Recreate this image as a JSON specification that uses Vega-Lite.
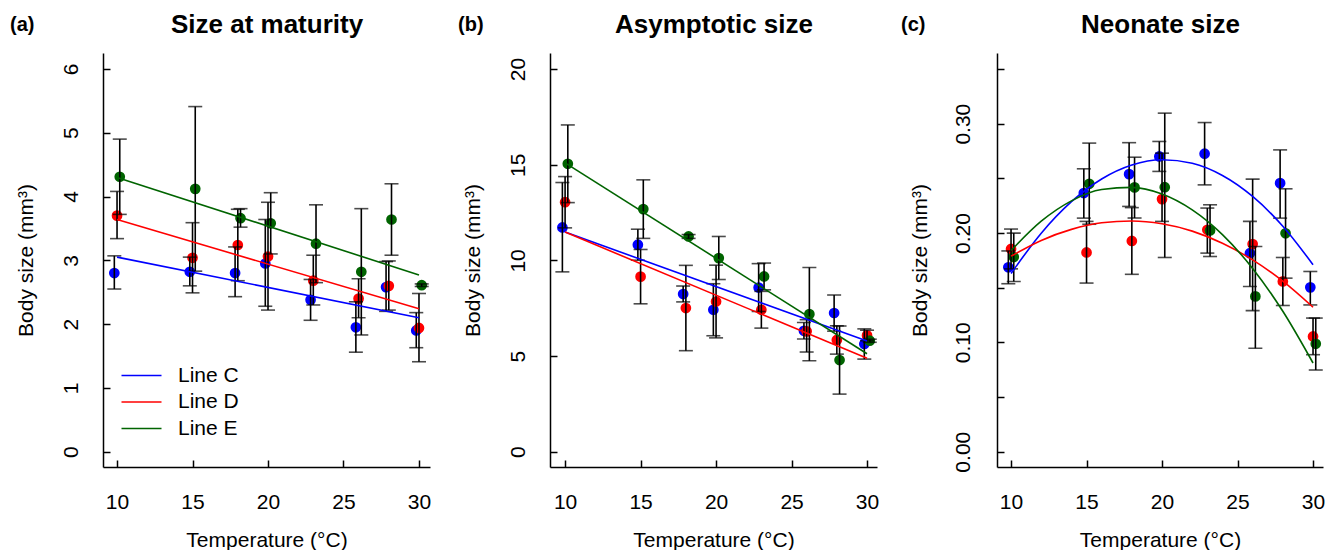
{
  "$schema": "https://vega.github.io/schema/vega-lite/v6.json",
  "background": "white",
  "padding": {"left": 10, "top": 11, "right": 5, "bottom": 0},
  "config": {
    "font": "Liberation Sans",
    "view": {"stroke": null},
    "axis": {
      "grid": false,
      "domainColor": "black", "domainWidth": 1.5,
      "tickColor": "black", "tickWidth": 1.5,
      "labelColor": "black", "labelFontSize": 21, "labelFont": "Liberation Sans",
      "titleColor": "black", "titleFontSize": 21, "titleFontWeight": "normal", "titleFont": "Liberation Sans"
    },
    "title": {"font": "Liberation Sans", "color": "black"}
  },
  "datasets": {
    "pa": [
      {"line": "Line C", "x": 9.82, "v": 2.80, "lo": 2.55, "hi": 3.07},
      {"line": "Line C", "x": 14.82, "v": 2.82, "lo": 2.60, "hi": 3.05},
      {"line": "Line C", "x": 17.82, "v": 2.80, "lo": 2.43, "hi": 3.21},
      {"line": "Line C", "x": 19.82, "v": 2.95, "lo": 2.28, "hi": 3.64},
      {"line": "Line C", "x": 22.82, "v": 2.38, "lo": 2.06, "hi": 2.70},
      {"line": "Line C", "x": 25.82, "v": 1.95, "lo": 1.56, "hi": 2.35},
      {"line": "Line C", "x": 27.82, "v": 2.58, "lo": 2.20, "hi": 2.98},
      {"line": "Line C", "x": 29.82, "v": 1.90, "lo": 1.63, "hi": 2.18},
      {"line": "Line D", "x": 10.0, "v": 3.70, "lo": 3.34, "hi": 4.08},
      {"line": "Line D", "x": 15.0, "v": 3.04, "lo": 2.49, "hi": 3.59},
      {"line": "Line D", "x": 18.0, "v": 3.24, "lo": 2.68, "hi": 3.80},
      {"line": "Line D", "x": 20.0, "v": 3.06, "lo": 2.22, "hi": 3.91},
      {"line": "Line D", "x": 23.0, "v": 2.68, "lo": 2.30, "hi": 3.08},
      {"line": "Line D", "x": 26.0, "v": 2.40, "lo": 2.10, "hi": 2.71},
      {"line": "Line D", "x": 28.0, "v": 2.60, "lo": 2.22, "hi": 2.99},
      {"line": "Line D", "x": 30.0, "v": 1.94, "lo": 1.41, "hi": 2.48},
      {"line": "Line E", "x": 10.18, "v": 4.31, "lo": 3.72, "hi": 4.90},
      {"line": "Line E", "x": 15.18, "v": 4.12, "lo": 2.83, "hi": 5.41},
      {"line": "Line E", "x": 18.18, "v": 3.66, "lo": 3.52, "hi": 3.81},
      {"line": "Line E", "x": 20.18, "v": 3.58, "lo": 3.10, "hi": 4.06},
      {"line": "Line E", "x": 23.18, "v": 3.26, "lo": 2.65, "hi": 3.87},
      {"line": "Line E", "x": 26.18, "v": 2.82, "lo": 1.83, "hi": 3.81},
      {"line": "Line E", "x": 28.18, "v": 3.64, "lo": 3.08, "hi": 4.20},
      {"line": "Line E", "x": 30.18, "v": 2.61, "lo": 2.59, "hi": 2.63}
    ],
    "pb": [
      {"line": "Line C", "x": 9.82, "v": 11.72, "lo": 9.40, "hi": 14.07},
      {"line": "Line C", "x": 14.82, "v": 10.82, "lo": 10.01, "hi": 11.63},
      {"line": "Line C", "x": 17.82, "v": 8.24, "lo": 7.83, "hi": 8.66},
      {"line": "Line C", "x": 19.82, "v": 7.42, "lo": 6.06, "hi": 8.78},
      {"line": "Line C", "x": 22.82, "v": 8.58, "lo": 7.33, "hi": 9.83},
      {"line": "Line C", "x": 25.82, "v": 6.32, "lo": 5.89, "hi": 6.75},
      {"line": "Line C", "x": 27.82, "v": 7.25, "lo": 6.30, "hi": 8.19},
      {"line": "Line C", "x": 29.82, "v": 5.63, "lo": 4.84, "hi": 6.42},
      {"line": "Line D", "x": 10.0, "v": 13.04, "lo": 11.70, "hi": 14.38},
      {"line": "Line D", "x": 15.0, "v": 9.15, "lo": 7.73, "hi": 10.57},
      {"line": "Line D", "x": 18.0, "v": 7.51, "lo": 5.28, "hi": 9.74},
      {"line": "Line D", "x": 20.0, "v": 7.85, "lo": 5.95, "hi": 9.75},
      {"line": "Line D", "x": 23.0, "v": 7.42, "lo": 6.46, "hi": 8.38},
      {"line": "Line D", "x": 26.0, "v": 6.29, "lo": 5.21, "hi": 6.90},
      {"line": "Line D", "x": 28.0, "v": 5.84, "lo": 5.10, "hi": 6.58},
      {"line": "Line D", "x": 30.0, "v": 6.08, "lo": 5.80, "hi": 6.35},
      {"line": "Line E", "x": 10.18, "v": 15.05, "lo": 13.02, "hi": 17.08},
      {"line": "Line E", "x": 15.18, "v": 12.68, "lo": 11.15, "hi": 14.21},
      {"line": "Line E", "x": 18.18, "v": 11.25, "lo": 11.15, "hi": 11.35},
      {"line": "Line E", "x": 20.18, "v": 10.12, "lo": 9.00, "hi": 11.25},
      {"line": "Line E", "x": 23.18, "v": 9.16, "lo": 8.46, "hi": 9.86},
      {"line": "Line E", "x": 26.18, "v": 7.19, "lo": 4.75, "hi": 9.63},
      {"line": "Line E", "x": 28.18, "v": 4.79, "lo": 3.01, "hi": 6.57},
      {"line": "Line E", "x": 30.18, "v": 5.80, "lo": 5.72, "hi": 5.88}
    ],
    "pc": [
      {"line": "Line C", "x": 9.82, "v": 0.1686, "lo": 0.1536, "hi": 0.1836},
      {"line": "Line C", "x": 14.82, "v": 0.2365, "lo": 0.2136, "hi": 0.2587},
      {"line": "Line C", "x": 17.82, "v": 0.2538, "lo": 0.2243, "hi": 0.2826},
      {"line": "Line C", "x": 19.82, "v": 0.2700, "lo": 0.2563, "hi": 0.2837},
      {"line": "Line C", "x": 22.82, "v": 0.2725, "lo": 0.2440, "hi": 0.3010},
      {"line": "Line C", "x": 25.82, "v": 0.1815, "lo": 0.1511, "hi": 0.2106},
      {"line": "Line C", "x": 27.82, "v": 0.2456, "lo": 0.2136, "hi": 0.2760},
      {"line": "Line C", "x": 29.82, "v": 0.1503, "lo": 0.1342, "hi": 0.1648},
      {"line": "Line D", "x": 10.0, "v": 0.1854, "lo": 0.1672, "hi": 0.2036},
      {"line": "Line D", "x": 15.0, "v": 0.1822, "lo": 0.1542, "hi": 0.2106},
      {"line": "Line D", "x": 18.0, "v": 0.1927, "lo": 0.1622, "hi": 0.2232},
      {"line": "Line D", "x": 20.0, "v": 0.2310, "lo": 0.2106, "hi": 0.2730},
      {"line": "Line D", "x": 23.0, "v": 0.2029, "lo": 0.1816, "hi": 0.2228},
      {"line": "Line D", "x": 26.0, "v": 0.1899, "lo": 0.1290, "hi": 0.2493},
      {"line": "Line D", "x": 28.0, "v": 0.1557, "lo": 0.1337, "hi": 0.1776},
      {"line": "Line D", "x": 30.0, "v": 0.1054, "lo": 0.0887, "hi": 0.1222},
      {"line": "Line E", "x": 10.18, "v": 0.1780, "lo": 0.1557, "hi": 0.1999},
      {"line": "Line E", "x": 15.18, "v": 0.2450, "lo": 0.2080, "hi": 0.2822},
      {"line": "Line E", "x": 18.18, "v": 0.2417, "lo": 0.2137, "hi": 0.2693},
      {"line": "Line E", "x": 20.18, "v": 0.2419, "lo": 0.1776, "hi": 0.3096},
      {"line": "Line E", "x": 23.18, "v": 0.2023, "lo": 0.1785, "hi": 0.2258},
      {"line": "Line E", "x": 26.18, "v": 0.1420, "lo": 0.0946, "hi": 0.1877},
      {"line": "Line E", "x": 28.18, "v": 0.1997, "lo": 0.1587, "hi": 0.2404},
      {"line": "Line E", "x": 30.18, "v": 0.0987, "lo": 0.0747, "hi": 0.1222}
    ],
    "fa": [
      {"line": "Line C", "x": 10, "v": 3.05}, {"line": "Line C", "x": 30, "v": 2.10},
      {"line": "Line D", "x": 10, "v": 3.64}, {"line": "Line D", "x": 30, "v": 2.24},
      {"line": "Line E", "x": 10, "v": 4.30}, {"line": "Line E", "x": 30, "v": 2.77}
    ],
    "fb": [
      {"line": "Line C", "x": 10, "v": 11.48}, {"line": "Line C", "x": 30, "v": 5.78},
      {"line": "Line D", "x": 10, "v": 11.48}, {"line": "Line D", "x": 30, "v": 4.88},
      {"line": "Line E", "x": 10, "v": 15.10}, {"line": "Line E", "x": 30, "v": 5.12}
    ],
    "fc": [
      {"line": "Line C", "x": 10, "v": 0.1630}, {"line": "Line C", "x": 12, "v": 0.1998},
      {"line": "Line C", "x": 14, "v": 0.2286}, {"line": "Line C", "x": 16, "v": 0.2494},
      {"line": "Line C", "x": 18, "v": 0.2622}, {"line": "Line C", "x": 20, "v": 0.2670},
      {"line": "Line C", "x": 22, "v": 0.2638}, {"line": "Line C", "x": 24, "v": 0.2526},
      {"line": "Line C", "x": 26, "v": 0.2334}, {"line": "Line C", "x": 28, "v": 0.2062},
      {"line": "Line C", "x": 30, "v": 0.1710},
      {"line": "Line D", "x": 10, "v": 0.1788}, {"line": "Line D", "x": 12, "v": 0.1932},
      {"line": "Line D", "x": 14, "v": 0.2033}, {"line": "Line D", "x": 16, "v": 0.2093},
      {"line": "Line D", "x": 18, "v": 0.2110}, {"line": "Line D", "x": 20, "v": 0.2084},
      {"line": "Line D", "x": 22, "v": 0.2017}, {"line": "Line D", "x": 24, "v": 0.1906},
      {"line": "Line D", "x": 26, "v": 0.1754}, {"line": "Line D", "x": 28, "v": 0.1559},
      {"line": "Line D", "x": 30, "v": 0.1321},
      {"line": "Line E", "x": 10, "v": 0.1840}, {"line": "Line E", "x": 12, "v": 0.2108},
      {"line": "Line E", "x": 14, "v": 0.2294}, {"line": "Line E", "x": 16, "v": 0.2397},
      {"line": "Line E", "x": 18, "v": 0.2417}, {"line": "Line E", "x": 20, "v": 0.2356},
      {"line": "Line E", "x": 22, "v": 0.2211}, {"line": "Line E", "x": 24, "v": 0.1985},
      {"line": "Line E", "x": 26, "v": 0.1676}, {"line": "Line E", "x": 28, "v": 0.1284},
      {"line": "Line E", "x": 30, "v": 0.0811}
    ]
  },
  "bounds": "flush",
  "spacing": 120,
  "resolve": {"scale": {"fill": "independent", "stroke": "shared"}, "legend": {"fill": "independent", "stroke": "shared"}},
  "hconcat": [
    {
      "width": 327, "height": 414,
      "title": {"text": "(a)", "anchor": "start", "frame": "group", "dx": -93, "dy": 40, "fontSize": 20, "fontWeight": "bold", "baseline": "alphabetic", "offset": 0},
      "resolve": {"axis": {"x": "independent"}},
      "layer": [
        {
          "data": {"name": "pa"},
          "mark": {"type": "circle", "size": 115, "opacity": 1},
          "encoding": {
            "x": {"field": "x", "type": "quantitative", "scale": {"domain": [9.07, 30.73], "nice": false, "zero": false},
              "axis": {"orient": "bottom", "values": [10, 15, 20, 25, 30], "format": "d", "title": "Temperature (°C)", "tickSize": -7, "labelPadding": 48, "labelBaseline": "alphabetic", "labelFlush": false, "titleX": 163.5, "titleY": 79, "titleBaseline": "alphabetic", "titleAlign": "center"}},
            "y": {"field": "v", "type": "quantitative", "scale": {"domain": [-0.24, 6.25], "nice": false, "zero": false},
              "axis": {"values": [0, 1, 2, 3, 4, 5, 6], "format": "d", "title": "Body size (mm³)", "tickSize": -7, "labelPadding": 39, "labelAngle": -90, "labelAlign": "center", "labelBaseline": "middle", "labelFlush": false, "titleX": -71, "titleY": 207, "titleAngle": -90, "titleBaseline": "alphabetic", "titleAlign": "center"}},
            "fill": {"field": "line", "type": "nominal", "scale": {"domain": ["Line C", "Line D", "Line E"], "range": ["#0000ff", "#ff0000", "#006400"]}, "legend": null}
          }
        },
        {
          "data": {"name": "pa"},
          "mark": {"type": "errorbar", "thickness": 1.6, "color": "black", "rule": {"color": "black"}, "ticks": {"size": 14, "color": "black"}},
          "encoding": {
            "x": {"field": "x", "type": "quantitative", "scale": {"domain": [9.07, 30.73], "nice": false, "zero": false}, "axis": null},
            "y": {"field": "lo", "type": "quantitative", "scale": {"domain": [-0.24, 6.25], "nice": false, "zero": false},
              "axis": {"values": [0, 1, 2, 3, 4, 5, 6], "format": "d", "title": "Body size (mm³)", "tickSize": -7, "labelPadding": 39, "labelAngle": -90, "labelAlign": "center", "labelBaseline": "middle", "labelFlush": false, "titleX": -71, "titleY": 207, "titleAngle": -90, "titleBaseline": "alphabetic", "titleAlign": "center"}},
            "y2": {"field": "hi"}
          }
        },
        {
          "data": {"name": "fa"},
          "mark": {"type": "line", "strokeWidth": 1.6},
          "encoding": {
            "x": {"field": "x", "type": "quantitative", "scale": {"domain": [9.07, 30.73], "nice": false, "zero": false},
              "axis": {"orient": "top", "domain": false, "ticks": false, "labels": false, "title": "Size at maturity", "titleFontSize": 26, "titleFontWeight": "bold", "titleX": 163.5, "titleY": -20.7, "titleBaseline": "alphabetic", "titleAlign": "center", "titleAngle": 0}},
            "y": {"field": "v", "type": "quantitative", "scale": {"domain": [-0.24, 6.25], "nice": false, "zero": false},
              "axis": {"values": [0, 1, 2, 3, 4, 5, 6], "format": "d", "title": "Body size (mm³)", "tickSize": -7, "labelPadding": 39, "labelAngle": -90, "labelAlign": "center", "labelBaseline": "middle", "labelFlush": false, "titleX": -71, "titleY": 207, "titleAngle": -90, "titleBaseline": "alphabetic", "titleAlign": "center"}},
            "stroke": {"field": "line", "type": "nominal", "scale": {"domain": ["Line C", "Line D", "Line E"], "range": ["#0000ff", "#ff0000", "#006400"]},
              "legend": {"orient": "none", "legendX": 28, "legendY": 312, "title": null, "padding": 0, "symbolType": "M-4,0H4", "symbolSize": 100, "symbolStrokeWidth": 1.6, "labelFontSize": 21, "labelFont": "Liberation Sans", "labelColor": "black", "labelOffset": 26, "rowPadding": 4.5, "labelBaseline": "middle"}}
          }
        }
      ]
    },
    {
      "width": 327, "height": 414,
      "title": {"text": "(b)", "anchor": "start", "frame": "group", "dx": -92, "dy": 40, "fontSize": 20, "fontWeight": "bold", "baseline": "alphabetic", "offset": 0},
      "resolve": {"axis": {"x": "independent"}},
      "layer": [
        {
          "data": {"name": "pb"},
          "mark": {"type": "circle", "size": 115, "opacity": 1},
          "encoding": {
            "x": {"field": "x", "type": "quantitative", "scale": {"domain": [9.0, 30.66], "nice": false, "zero": false},
              "axis": {"orient": "bottom", "values": [10, 15, 20, 25, 30], "format": "d", "title": "Temperature (°C)", "tickSize": -7, "labelPadding": 48, "labelBaseline": "alphabetic", "labelFlush": false, "titleX": 163.5, "titleY": 79, "titleBaseline": "alphabetic", "titleAlign": "center"}},
            "y": {"field": "v", "type": "quantitative", "scale": {"domain": [-0.8, 20.84], "nice": false, "zero": false},
              "axis": {"values": [0, 5, 10, 15, 20], "format": "d", "title": "Body size (mm³)", "tickSize": -7, "labelPadding": 39, "labelAngle": -90, "labelAlign": "center", "labelBaseline": "middle", "labelFlush": false, "titleX": -71, "titleY": 207, "titleAngle": -90, "titleBaseline": "alphabetic", "titleAlign": "center"}},
            "fill": {"field": "line", "type": "nominal", "scale": {"domain": ["Line C", "Line D", "Line E"], "range": ["#0000ff", "#ff0000", "#006400"]}, "legend": null}
          }
        },
        {
          "data": {"name": "pb"},
          "mark": {"type": "errorbar", "thickness": 1.6, "color": "black", "rule": {"color": "black"}, "ticks": {"size": 14, "color": "black"}},
          "encoding": {
            "x": {"field": "x", "type": "quantitative", "scale": {"domain": [9.0, 30.66], "nice": false, "zero": false}, "axis": null},
            "y": {"field": "lo", "type": "quantitative", "scale": {"domain": [-0.8, 20.84], "nice": false, "zero": false},
              "axis": {"values": [0, 5, 10, 15, 20], "format": "d", "title": "Body size (mm³)", "tickSize": -7, "labelPadding": 39, "labelAngle": -90, "labelAlign": "center", "labelBaseline": "middle", "labelFlush": false, "titleX": -71, "titleY": 207, "titleAngle": -90, "titleBaseline": "alphabetic", "titleAlign": "center"}},
            "y2": {"field": "hi"}
          }
        },
        {
          "data": {"name": "fb"},
          "mark": {"type": "line", "strokeWidth": 1.6},
          "encoding": {
            "x": {"field": "x", "type": "quantitative", "scale": {"domain": [9.0, 30.66], "nice": false, "zero": false},
              "axis": {"orient": "top", "domain": false, "ticks": false, "labels": false, "title": "Asymptotic size", "titleFontSize": 26, "titleFontWeight": "bold", "titleX": 163.5, "titleY": -20.7, "titleBaseline": "alphabetic", "titleAlign": "center", "titleAngle": 0}},
            "y": {"field": "v", "type": "quantitative", "scale": {"domain": [-0.8, 20.84], "nice": false, "zero": false},
              "axis": {"values": [0, 5, 10, 15, 20], "format": "d", "title": "Body size (mm³)", "tickSize": -7, "labelPadding": 39, "labelAngle": -90, "labelAlign": "center", "labelBaseline": "middle", "labelFlush": false, "titleX": -71, "titleY": 207, "titleAngle": -90, "titleBaseline": "alphabetic", "titleAlign": "center"}},
            "stroke": {"field": "line", "type": "nominal", "scale": {"domain": ["Line C", "Line D", "Line E"], "range": ["#0000ff", "#ff0000", "#006400"]},
              "legend": {"orient": "none", "legendX": 28, "legendY": 312, "title": null, "padding": 0, "symbolType": "M-4,0H4", "symbolSize": 100, "symbolStrokeWidth": 1.6, "labelFontSize": 21, "labelFont": "Liberation Sans", "labelColor": "black", "labelOffset": 26, "rowPadding": 4.5, "labelBaseline": "middle"}}
          }
        }
      ]
    },
    {
      "width": 326, "height": 414,
      "title": {"text": "(c)", "anchor": "start", "frame": "group", "dx": -96, "dy": 40, "fontSize": 20, "fontWeight": "bold", "baseline": "alphabetic", "offset": 0},
      "resolve": {"axis": {"x": "independent"}},
      "layer": [
        {
          "data": {"name": "pc"},
          "mark": {"type": "circle", "size": 115, "opacity": 1},
          "encoding": {
            "x": {"field": "x", "type": "quantitative", "scale": {"domain": [9.07, 30.66], "nice": false, "zero": false},
              "axis": {"orient": "bottom", "values": [10, 15, 20, 25, 30], "format": "d", "title": "Temperature (°C)", "tickSize": -7, "labelPadding": 48, "labelBaseline": "alphabetic", "labelFlush": false, "titleX": 163, "titleY": 79, "titleBaseline": "alphabetic", "titleAlign": "center"}},
            "y": {"field": "v", "type": "quantitative", "scale": {"domain": [-0.014, 0.3646], "nice": false, "zero": false},
              "axis": {"values": [0, 0.05, 0.1, 0.15, 0.2, 0.25, 0.3, 0.35], "labelExpr": "abs(round(datum.value * 100)) % 10 == 0 ? format(datum.value, '.2f') : ''", "title": "Body size (mm³)", "tickSize": -7, "labelPadding": 41, "labelAngle": -90, "labelAlign": "center", "labelBaseline": "middle", "labelFlush": false, "titleX": -71, "titleY": 207, "titleAngle": -90, "titleBaseline": "alphabetic", "titleAlign": "center"}},
            "fill": {"field": "line", "type": "nominal", "scale": {"domain": ["Line C", "Line D", "Line E"], "range": ["#0000ff", "#ff0000", "#006400"]}, "legend": null}
          }
        },
        {
          "data": {"name": "pc"},
          "mark": {"type": "errorbar", "thickness": 1.6, "color": "black", "rule": {"color": "black"}, "ticks": {"size": 14, "color": "black"}},
          "encoding": {
            "x": {"field": "x", "type": "quantitative", "scale": {"domain": [9.07, 30.66], "nice": false, "zero": false}, "axis": null},
            "y": {"field": "lo", "type": "quantitative", "scale": {"domain": [-0.014, 0.3646], "nice": false, "zero": false},
              "axis": {"values": [0, 0.05, 0.1, 0.15, 0.2, 0.25, 0.3, 0.35], "labelExpr": "abs(round(datum.value * 100)) % 10 == 0 ? format(datum.value, '.2f') : ''", "title": "Body size (mm³)", "tickSize": -7, "labelPadding": 41, "labelAngle": -90, "labelAlign": "center", "labelBaseline": "middle", "labelFlush": false, "titleX": -71, "titleY": 207, "titleAngle": -90, "titleBaseline": "alphabetic", "titleAlign": "center"}},
            "y2": {"field": "hi"}
          }
        },
        {
          "data": {"name": "fc"},
          "mark": {"type": "line", "strokeWidth": 1.6, "interpolate": "monotone"},
          "encoding": {
            "x": {"field": "x", "type": "quantitative", "scale": {"domain": [9.07, 30.66], "nice": false, "zero": false},
              "axis": {"orient": "top", "domain": false, "ticks": false, "labels": false, "title": "Neonate size", "titleFontSize": 26, "titleFontWeight": "bold", "titleX": 163, "titleY": -20.7, "titleBaseline": "alphabetic", "titleAlign": "center", "titleAngle": 0}},
            "y": {"field": "v", "type": "quantitative", "scale": {"domain": [-0.014, 0.3646], "nice": false, "zero": false},
              "axis": {"values": [0, 0.05, 0.1, 0.15, 0.2, 0.25, 0.3, 0.35], "labelExpr": "abs(round(datum.value * 100)) % 10 == 0 ? format(datum.value, '.2f') : ''", "title": "Body size (mm³)", "tickSize": -7, "labelPadding": 41, "labelAngle": -90, "labelAlign": "center", "labelBaseline": "middle", "labelFlush": false, "titleX": -71, "titleY": 207, "titleAngle": -90, "titleBaseline": "alphabetic", "titleAlign": "center"}},
            "stroke": {"field": "line", "type": "nominal", "scale": {"domain": ["Line C", "Line D", "Line E"], "range": ["#0000ff", "#ff0000", "#006400"]},
              "legend": {"orient": "none", "legendX": 28, "legendY": 312, "title": null, "padding": 0, "symbolType": "M-4,0H4", "symbolSize": 100, "symbolStrokeWidth": 1.6, "labelFontSize": 21, "labelFont": "Liberation Sans", "labelColor": "black", "labelOffset": 26, "rowPadding": 4.5, "labelBaseline": "middle"}}
          }
        }
      ]
    }
  ]
}
